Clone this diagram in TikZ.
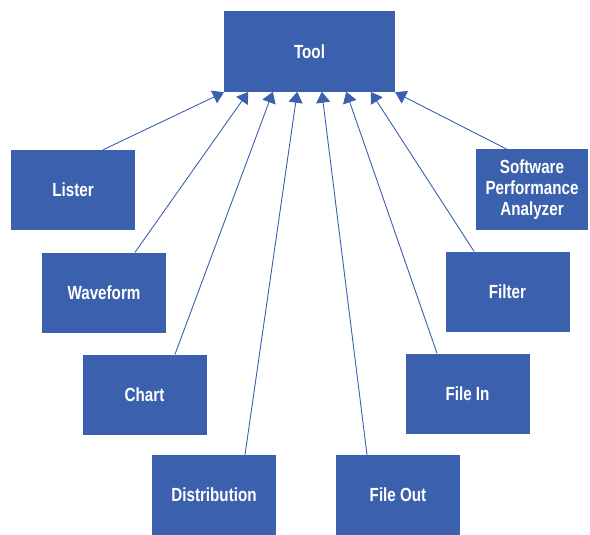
\documentclass[tikz,border=0pt]{standalone}
\usepackage{fontspec}
\setmainfont{Liberation Sans}[BoldFont={* Bold},BoldFeatures={FakeStretch=0.8}]
\usetikzlibrary{arrows.meta}
\definecolor{boxblue}{RGB}{59,96,173}
\tikzset{
  box/.style={rectangle, fill=boxblue, draw=none, text=white,
    minimum width=124pt, minimum height=80pt, inner sep=2pt,
    align=center, font=\fontsize{19pt}{21pt}\selectfont\bfseries},
  link/.style={draw=boxblue, line width=0.9pt,
    -{Triangle[length=11pt,width=14pt]}, shorten >=-1pt}
}
\begin{document}
\begin{tikzpicture}[x=1pt,y=-1pt]
\useasboundingbox (0,0) rectangle (590,535);
% central tool and the modules feeding it
\node[box, minimum width=171pt, minimum height=81pt] (tool) at (309.5,52) {Tool};
\node[box] (lister) at (73,190) {Lister};
\node[box] (wave) at (104,292.5) {Waveform};
\node[box] (chart) at (144.5,394.5) {Chart};
\node[box] (dist) at (214,495) {Distribution};
\node[box] (fout) at (398,495) {File Out};
\node[box] (fin) at (467.5,393.5) {File In};
\node[box] (filter) at (507.5,291.5) {Filter};
\node[box, minimum width=112pt, align=center] (spa) at (532,189.5)
  {Software\\Performance\\Analyzer};
% connectors into the tool
\draw[link] ([xshift=30pt]lister.north) -- ([xshift=-86.5pt]tool.south);
\draw[link] ([xshift=31pt]wave.north) -- ([xshift=-61.8pt]tool.south);
\draw[link] ([xshift=30.5pt]chart.north) -- ([xshift=-37pt]tool.south);
\draw[link] ([xshift=31pt]dist.north) -- ([xshift=-12.4pt]tool.south);
\draw[link] ([xshift=-31pt]fout.north) -- ([xshift=12.4pt]tool.south);
\draw[link] ([xshift=-30.5pt]fin.north) -- ([xshift=37pt]tool.south);
\draw[link] ([xshift=-33.5pt]filter.north) -- ([xshift=61.8pt]tool.south);
\draw[link] ([xshift=-25pt]spa.north) -- ([xshift=86.5pt]tool.south);
\end{tikzpicture}
\end{document}
